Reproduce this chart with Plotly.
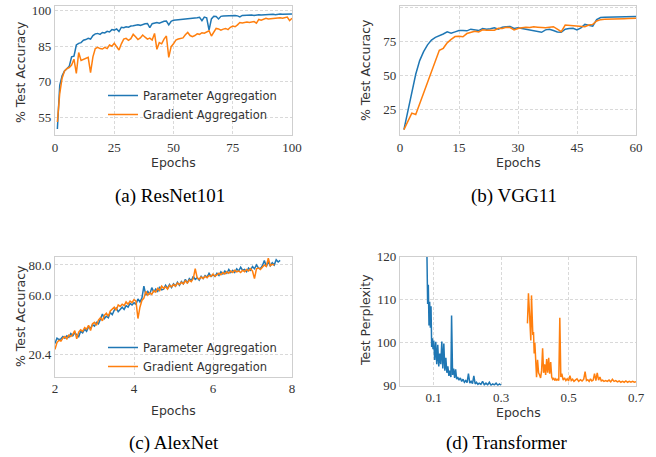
import plotly.graph_objects as go

W, H = 656, 457
BLUE = "#1f77b4"
ORANGE = "#ff7f0e"

# ---------------- (a) ResNet101 ----------------
resnet_epochs = list(range(1, 101))
resnet_param = [50.0, 68.5, 72.5, 74.5, 75.5, 76.5, 80.5, 80.8, 85.5, 86.2,
                86.5, 87.5, 87.8, 88.3, 88.0, 89.5, 90.2, 90.4, 90.0, 90.8,
                90.6, 91.3, 91.0, 92.0, 91.8, 92.3, 91.2, 93.0, 92.8, 93.2,
                93.0, 93.5, 93.6, 93.8, 94.0, 93.8, 94.2, 94.5, 94.6, 92.8,
                94.5, 94.8, 95.0, 94.7, 95.2, 95.5, 95.6, 94.0, 95.5, 96.0,
                96.1, 96.2, 96.3, 96.2, 96.5, 96.6, 96.4, 96.8, 96.7, 97.0,
                97.2, 95.8, 97.3, 97.0, 91.8, 96.5, 97.6, 97.5, 96.5, 97.6,
                97.7, 97.8, 97.6, 97.9, 97.8, 98.0, 97.8, 97.4, 98.0, 98.1,
                98.0, 98.1, 98.2, 98.0, 98.2, 98.3, 98.2, 98.3, 98.1, 98.4,
                98.4, 98.5, 98.3, 98.5, 98.6, 98.5, 98.6, 98.7, 98.7, 98.6]
resnet_grad = [53.0, 65.0, 71.5, 74.5, 75.5, 76.0, 77.0, 79.5, 73.5, 82.3,
               79.0, 79.5, 80.0, 80.3, 73.8, 80.5, 84.0, 84.5, 84.0, 83.8,
               84.5, 84.0, 85.5, 85.0, 86.2, 84.5, 83.4, 86.0, 88.0, 88.3,
               87.5, 88.2, 90.0, 89.0, 87.8, 88.5, 89.7, 88.8, 88.0, 88.4,
               87.6, 90.4, 83.7, 86.5, 86.0, 88.0, 89.3, 80.3, 84.8, 86.0,
               87.6, 88.0, 88.2, 88.5, 89.8, 90.8, 89.5, 89.0, 89.5, 90.2,
               90.0, 90.7, 90.5, 91.0, 91.5, 89.3, 91.0, 92.5, 92.3, 91.8,
               92.2, 92.5, 92.0, 93.0, 93.5, 93.2, 94.0, 95.0, 94.8, 95.0,
               95.2, 95.0, 95.3, 95.4, 94.7, 96.3, 96.0, 96.4, 96.8, 96.5,
               96.6, 96.8, 96.7, 96.9, 97.0, 96.8, 97.2, 97.3, 95.8, 96.8]

# ---------------- (b) VGG11 ----------------
vgg_epochs = list(range(1, 61))
vgg_param = [10.4, 24.0, 38.0, 51.0, 61.0, 67.5, 72.5, 76.0, 78.0, 79.0,
             80.5, 82.0, 81.0, 82.0, 83.0, 83.0, 82.8, 84.0, 83.5, 83.0,
             84.5, 84.0, 84.3, 85.0, 84.0, 85.5, 85.8, 86.0, 84.5, 85.0,
             84.5, 84.0, 83.5, 83.0, 82.3, 81.7, 83.5, 84.0, 83.0, 82.0,
             81.7, 84.0, 84.5, 84.7, 83.5, 85.0, 87.5, 87.0, 86.2, 91.0,
             92.5, 92.7, 92.8, 93.0, 93.0, 93.0, 93.0, 93.0, 93.2, 93.2]
vgg_grad = [10.4, 16.5, 22.5, 21.5, 29.5, 36.0, 44.5, 53.0, 60.5, 68.5,
            70.0, 74.0, 76.5, 78.6, 78.8, 78.4, 80.8, 81.5, 82.5, 82.0,
            83.5, 83.3, 83.5, 83.3, 84.7, 84.5, 85.4, 85.2, 83.4, 84.5,
            85.0, 85.5, 85.2, 85.8, 85.5, 85.2, 85.0, 85.5, 85.8, 84.0,
            82.2, 87.0, 86.8, 86.5, 86.0, 86.3, 85.8, 87.0, 87.5, 90.0,
            91.0, 91.2, 91.4, 91.5, 91.5, 91.6, 91.7, 91.8, 91.8, 92.0]

# ---------------- (c) AlexNet ----------------
alex_param_epochs = [2.00, 2.05, 2.10, 2.15, 2.20, 2.25, 2.30, 2.35, 2.40, 2.45,
                     2.50, 2.55, 2.60, 2.65, 2.70, 2.75, 2.80, 2.85, 2.90, 2.95,
                     3.00, 3.05, 3.10, 3.15, 3.20, 3.25, 3.30, 3.35, 3.40, 3.45,
                     3.50, 3.55, 3.60, 3.65, 3.70, 3.75, 3.80, 3.85, 3.90, 3.95,
                     4.00, 4.05, 4.10, 4.15, 4.20, 4.25, 4.30, 4.35, 4.40, 4.45,
                     4.50, 4.55, 4.60, 4.65, 4.70, 4.75, 4.80, 4.85, 4.90, 4.95,
                     5.00, 5.05, 5.10, 5.15, 5.20, 5.25, 5.30, 5.35, 5.40, 5.45,
                     5.50, 5.55, 5.60, 5.65, 5.70, 5.75, 5.80, 5.85, 5.90, 5.95,
                     6.00, 6.05, 6.10, 6.15, 6.20, 6.25, 6.30, 6.35, 6.40, 6.45,
                     6.50, 6.55, 6.60, 6.65, 6.70, 6.75, 6.80, 6.85, 6.90, 6.95,
                     7.00, 7.05, 7.10, 7.15, 7.20, 7.25, 7.30, 7.35, 7.40, 7.45,
                     7.50, 7.55, 7.60, 7.65, 7.70]
alex_param = [28.0, 31.5, 30.5, 31.0, 32.5, 31.5, 33.0, 32.0, 34.5, 33.0,
              35.0, 34.0, 32.5, 36.0, 35.0, 37.5, 36.0, 39.0, 38.0, 40.5,
              39.5, 42.0, 41.0, 44.0, 47.5, 44.5, 46.0, 45.0, 48.5, 47.0,
              50.0, 51.5, 49.0, 50.5, 52.0, 50.5, 53.0, 52.0, 54.5, 53.5,
              55.0, 54.0, 57.5, 55.5, 58.0, 66.0, 60.0, 62.5, 60.5, 65.0,
              62.0, 64.0, 62.5, 65.5, 63.5, 64.0, 66.5, 64.5, 67.0, 65.0,
              67.5, 66.0, 68.5, 66.5, 69.0, 67.5, 70.5, 68.0, 71.0, 69.5,
              72.5, 70.5, 71.5, 70.0, 72.5, 71.0, 73.0, 72.0, 74.5, 72.5,
              73.5, 72.5, 74.5, 73.0, 75.5, 74.0, 76.0, 74.5, 77.0, 75.0,
              76.5, 75.0, 77.5, 76.0, 78.5, 76.5, 77.0, 75.5, 78.0, 76.5,
              79.0, 77.5, 80.0, 78.0, 77.5, 79.5, 83.0, 79.0, 82.0, 79.5,
              81.5, 80.0, 83.5, 82.0, 83.0]
alex_grad_epochs = [2.00, 2.05, 2.10, 2.15, 2.20, 2.25, 2.30, 2.35, 2.40, 2.45,
                    2.50, 2.55, 2.60, 2.65, 2.70, 2.75, 2.80, 2.85, 2.90, 2.95,
                    3.00, 3.05, 3.10, 3.15, 3.20, 3.25, 3.30, 3.35, 3.40, 3.45,
                    3.50, 3.55, 3.60, 3.65, 3.70, 3.75, 3.80, 3.85, 3.90, 3.95,
                    4.00, 4.05, 4.10, 4.15, 4.20, 4.25, 4.30, 4.35, 4.40, 4.45,
                    4.50, 4.55, 4.60, 4.65, 4.70, 4.75, 4.80, 4.85, 4.90, 4.95,
                    5.00, 5.05, 5.10, 5.15, 5.20, 5.25, 5.30, 5.35, 5.40, 5.45,
                    5.50, 5.55, 5.60, 5.65, 5.70, 5.75, 5.80, 5.85, 5.90, 5.95,
                    6.00, 6.05, 6.10, 6.15, 6.20, 6.25, 6.30, 6.35, 6.40, 6.45,
                    6.50, 6.55, 6.60, 6.65, 6.70, 6.75, 6.80, 6.85, 6.90, 6.95,
                    7.00, 7.05, 7.10, 7.15, 7.20, 7.25, 7.30, 7.35, 7.40, 7.45,
                    7.50, 7.55]
alex_grad = [24.0, 28.5, 30.0, 29.5, 31.5, 32.5, 31.0, 33.5, 32.5, 34.0,
             36.5, 31.0, 35.5, 37.0, 36.0, 38.5, 37.5, 40.0, 36.5, 41.0,
             42.0, 40.0, 43.5, 45.0, 43.0, 46.5, 48.0, 46.0, 49.5, 51.0,
             52.0, 50.0, 53.5, 52.5, 54.0, 53.0, 55.5, 54.0, 56.0, 55.0,
             57.0, 56.0, 44.5, 52.0, 56.5, 58.0, 62.5, 60.0, 61.5, 60.5,
             63.0, 62.0, 64.5, 63.0, 66.0, 64.5, 65.5, 64.0, 66.5, 65.5,
             67.0, 66.0, 68.0, 67.0, 68.5, 67.5, 69.5, 68.0, 70.0, 69.0,
             71.0, 77.5, 71.5, 70.5, 72.0, 71.0, 72.5, 71.5, 73.0, 72.5,
             74.0, 72.5, 73.5, 74.5, 73.5, 75.0, 74.0, 75.5, 74.5, 76.0,
             75.0, 76.5, 75.5, 76.0, 75.0, 76.5, 75.5, 77.0, 76.0, 77.5,
             76.0, 71.0, 77.5, 78.0, 77.0, 78.5, 80.0, 79.0, 84.5, 79.5,
             80.5, 80.0]

# ---------------- (d) Transformer ----------------
tf_param_epochs = [0.080, 0.082, 0.084, 0.086, 0.088, 0.090, 0.092, 0.094, 0.096, 0.098,
                   0.100, 0.103, 0.106, 0.109, 0.112, 0.115, 0.118, 0.121, 0.124, 0.127,
                   0.130, 0.133, 0.136, 0.139, 0.142, 0.145, 0.148, 0.151, 0.153, 0.156,
                   0.159, 0.162, 0.165, 0.168, 0.171, 0.175, 0.179, 0.183, 0.187, 0.191,
                   0.195, 0.199, 0.203, 0.207, 0.211, 0.215, 0.219, 0.223, 0.227, 0.231,
                   0.235, 0.240, 0.245, 0.250, 0.255, 0.260, 0.265, 0.270, 0.275, 0.280,
                   0.285, 0.290, 0.295, 0.300]
tf_param = [120.0, 109.0, 113.5, 104.0, 109.5, 103.5, 108.5, 99.0, 101.0, 98.5,
            100.5, 96.0, 100.2, 95.0, 99.5, 94.5, 97.5, 95.0, 100.3, 94.0,
            99.8, 93.5, 96.5, 93.0, 94.5, 92.3, 93.5, 92.0, 106.3, 92.5,
            94.0, 91.8, 93.8, 91.5, 92.0, 91.3, 91.8, 91.0, 91.5, 90.8,
            91.2, 90.7, 92.8, 90.6, 91.0, 90.5, 92.3, 90.4, 90.8, 90.3,
            90.6, 90.3, 91.0, 90.2, 90.6, 90.2, 90.8, 90.1, 90.4, 90.2,
            90.6, 90.1, 90.4, 90.1]
tf_grad_epochs = [0.378, 0.381, 0.384, 0.386, 0.388, 0.390, 0.392, 0.394, 0.396, 0.398,
                  0.400, 0.402, 0.405, 0.408, 0.411, 0.414, 0.417, 0.420, 0.423, 0.426,
                  0.429, 0.432, 0.435, 0.438, 0.441, 0.444, 0.447, 0.450, 0.453, 0.456,
                  0.459, 0.462, 0.465, 0.468, 0.471, 0.474, 0.477, 0.480, 0.484, 0.488,
                  0.492, 0.496, 0.500, 0.504, 0.508, 0.512, 0.516, 0.520, 0.525, 0.530,
                  0.535, 0.540, 0.545, 0.549, 0.553, 0.557, 0.561, 0.565, 0.569, 0.573,
                  0.577, 0.581, 0.585, 0.589, 0.593, 0.597, 0.601, 0.605, 0.610, 0.615,
                  0.620, 0.625, 0.630, 0.635, 0.640, 0.645, 0.650, 0.655, 0.660, 0.665,
                  0.670, 0.675, 0.680, 0.685, 0.690, 0.695, 0.700]
tf_grad = [104.5, 111.5, 107.0, 103.3, 100.5, 111.0, 104.0, 101.8, 102.5, 97.5,
           100.0, 95.5, 92.0, 96.0, 93.0, 92.5, 91.8, 93.5, 98.7, 93.0,
           95.0, 92.5, 96.2, 93.0, 96.5, 92.8, 95.5, 92.0, 91.5, 91.8,
           91.2, 91.6, 91.3, 91.5, 91.2, 105.8, 92.0, 92.8, 91.3, 91.8,
           91.2, 91.6, 91.1, 92.3, 91.2, 91.5, 91.0, 91.3, 91.6, 91.0,
           91.4, 91.1, 91.5, 93.3, 91.2, 91.4, 91.0, 91.6, 91.1, 91.3,
           92.8, 91.2, 93.0, 91.3, 92.0, 91.1, 91.3, 91.0, 91.2, 91.0,
           91.3, 90.9, 91.5, 91.0, 91.2, 90.9, 91.1, 90.8, 91.0, 90.8,
           91.1, 90.8, 91.0, 90.8, 91.0, 90.8, 90.9]

LEG_NAMES = ["Parameter Aggregation", "Gradient Aggregation"]
CAPTIONS = ["(a) ResNet101", "(b) VGG11", "(c) AlexNet", "(d) Transformer"]

# ---------------- layout helpers ----------------
def px_x(a, b):
    return [a / W, b / W]

def px_y(top, bottom):
    return [1 - bottom / H, 1 - top / H]

TICK_FONT = dict(family="Liberation Serif, Times New Roman, serif", size=13, color="#333333")
SANS = "DejaVu Sans, Liberation Sans, sans-serif"
FRAME = "#cfcfcf"
GRID = "#d9d9d9"

fig = go.Figure()

def add(x, y, color, xa, ya, name=None, legend=None):
    fig.add_trace(go.Scatter(
        x=x, y=y, mode="lines", line=dict(color=color, width=1.5),
        xaxis=xa, yaxis=ya, name=name or "",
        showlegend=legend is not None, legend=legend or "legend"))

add(resnet_epochs, resnet_param, BLUE, "x", "y", LEG_NAMES[0], "legend")
add(resnet_epochs, resnet_grad, ORANGE, "x", "y", LEG_NAMES[1], "legend")
add(vgg_epochs, vgg_param, BLUE, "x2", "y2")
add(vgg_epochs, vgg_grad, ORANGE, "x2", "y2")
add(alex_param_epochs, alex_param, BLUE, "x3", "y3", LEG_NAMES[0], "legend2")
add(alex_grad_epochs, alex_grad, ORANGE, "x3", "y3", LEG_NAMES[1], "legend2")
add(tf_param_epochs, tf_param, BLUE, "x4", "y4")
add(tf_grad_epochs, tf_grad, ORANGE, "x4", "y4")

def axis(domain, rng, tickvals, ticktext, anchor):
    return dict(domain=domain, range=rng, tickvals=tickvals, ticktext=ticktext,
                anchor=anchor, showline=True, mirror=True, linecolor=FRAME, linewidth=1.2,
                showgrid=True, gridcolor=GRID, griddash="3px,2px", gridwidth=1,
                zeroline=False, ticks="", tickfont=TICK_FONT, fixedrange=True,
                automargin=False)

A_X, B_X = px_x(55, 292), px_x(400, 636)
fig.update_layout(
    xaxis=axis(A_X, [0, 100], [0, 25, 50, 75, 100], ["0", "25", "50", "75", "100"], "y"),
    yaxis=axis(px_y(5.7, 135), [47.5, 102.1], [55, 70, 85, 100], ["55", "70", "85", "100"], "x"),
    xaxis2=axis(B_X, [0, 60], [0, 15, 30, 45, 60], ["0", "15", "30", "45", "60"], "y2"),
    yaxis2=axis(px_y(5.7, 135), [6.5, 101.2], [25, 50, 75, 100], ["25", "50", "75", "100"], "x2"),
    xaxis3=axis(A_X, [2, 8], [2, 4, 6, 8], ["2", "4", "6", "8"], "y3"),
    yaxis3=axis(px_y(256.7, 376.7), [5.9, 85.5], [20.4, 60.0, 80.0], ["20.4", "60.0", "80.0"], "x3"),
    xaxis4=axis(B_X, [0, 0.7], [0.1, 0.3, 0.5, 0.7], ["0.1", "0.3", "0.5", "0.7"], "y4"),
    yaxis4=axis(px_y(256.7, 385.7), [90, 120], [90, 100, 110, 120], ["90", "100", "110", "120"], "x4"),
)

leg_common = dict(xanchor="left", yanchor="top", bgcolor="rgba(0,0,0,0)",
                  font=dict(family=SANS, size=11.5, color="#333333"),
                  tracegroupgap=0, itemwidth=30)
fig.update_layout(
    legend=dict(x=103 / W, y=1 - 81 / H, **leg_common),
    legend2=dict(x=103 / W, y=1 - 333 / H, **leg_common),
)

ann = []
def text(x, y, s, size, family, angle=0, color="#333333"):
    ann.append(dict(x=x / W, y=1 - y / H, xref="paper", yref="paper", text=s,
                    showarrow=False, textangle=angle, xanchor="center", yanchor="middle",
                    font=dict(family=family, size=size, color=color)))

# axis titles
text(173, 162, "Epochs", 12.5, SANS)
text(518, 162, "Epochs", 12.5, SANS)
text(173, 410, "Epochs", 12.5, SANS)
text(518, 412, "Epochs", 12.5, SANS)
text(20, 72, "% Test Accuracy", 12.5, SANS, -90)
text(365, 70, "% Test Accuracy", 12.5, SANS, -90)
text(20, 316, "% Test Accuracy", 12.5, SANS, -90)
text(365, 320, "Test Perplexity", 12.5, SANS, -90)
# captions
CAP_FONT = "Liberation Serif, Times New Roman, serif"
text(170, 196, CAPTIONS[0], 19, CAP_FONT, color="#000000")
text(514, 196, CAPTIONS[1], 19, CAP_FONT, color="#000000")
text(174, 443, CAPTIONS[2], 19, CAP_FONT, color="#000000")
text(507, 443, CAPTIONS[3], 19, CAP_FONT, color="#000000")

fig.update_layout(annotations=ann, width=W, height=H,
                  margin=dict(l=0, r=0, t=0, b=0, autoexpand=False),
                  paper_bgcolor="white", plot_bgcolor="white")

fig.write_html("out.html", config={"displayModeBar": False},
               post_script="document.body.style.margin='0px';document.body.style.padding='0px';"
                           "document.documentElement.style.overflow='hidden';")
